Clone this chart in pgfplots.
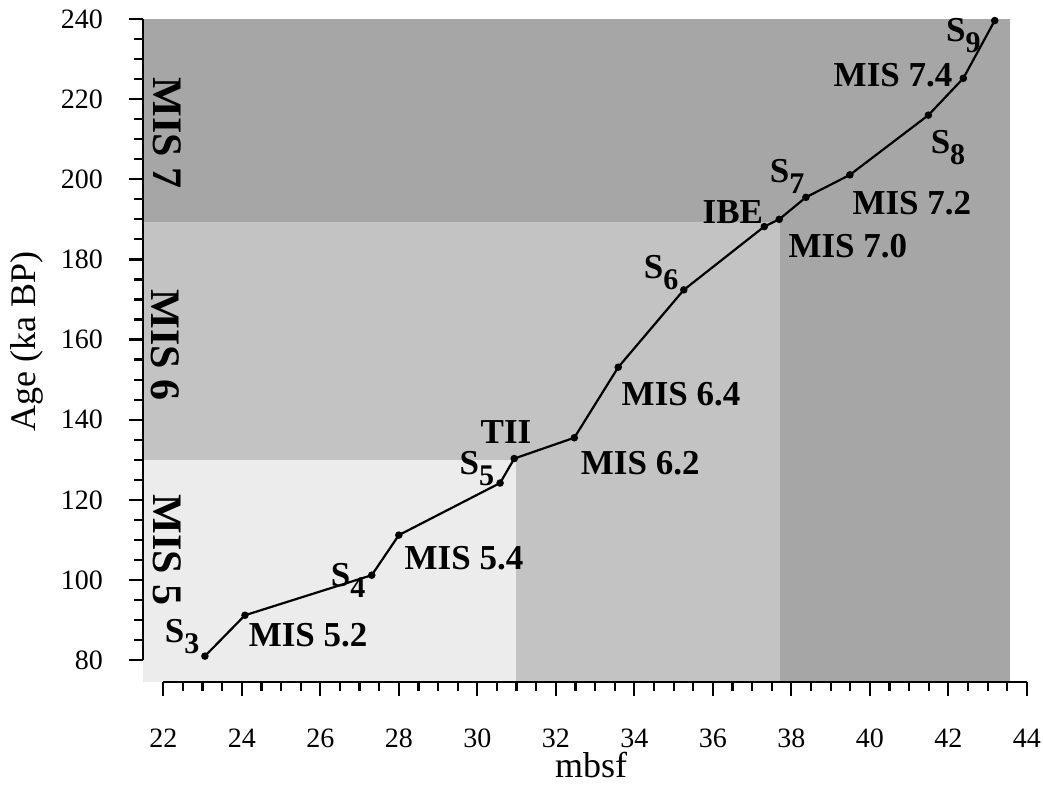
\documentclass[border=0pt]{standalone}
\usepackage{fontspec}
\setmainfont{Liberation Serif}
\usepackage{pgfplots}
\pgfplotsset{compat=1.18}
\definecolor{mis5}{gray}{0.925}
\definecolor{mis6}{gray}{0.765}
\definecolor{mis7}{gray}{0.65}
\newcommand{\sub}[1]{\raisebox{-5.5pt}{\fontsize{15}{15}\selectfont #1}}
\tikzset{
 lbl/.style={font=\bfseries\fontsize{17.5}{20}\selectfont, inner sep=0pt},
 mis/.style={font=\bfseries\fontsize{21}{24}\selectfont, rotate=-90, inner sep=0pt},
}
\begin{document}
\begin{tikzpicture}
\begin{axis}[
 scale only axis, width=431.7pt, height=320.5pt,
 xmin=22, xmax=44, ymin=80, ymax=240,
 clip=false, axis on top,
 axis x line*=bottom, axis y line*=left,
 axis x line shift=10.85pt, axis y line shift=10pt,
 xtick={22,24,...,44}, ytick={80,100,...,240},
 minor x tick num=3, minor y tick num=3,
 tick align=outside,
 major tick length=7.2pt, minor tick length=4.5pt,
 tick style={black, line width=1.1pt},
 axis line style={black, line width=1.2pt},
 /pgf/number format/assume math mode=true,
 ticklabel style={font=\fontsize{14}{16}\selectfont},
 yticklabel style={xshift=-9.5pt},
 xticklabel style={yshift=-12.75pt},
 xlabel={mbsf}, ylabel={Age (ka BP)},
 label style={font=\fontsize{18}{21}\selectfont},
 xlabel style={at={(axis description cs:0.4955,-0.1835)}, anchor=base},
 ylabel style={at={(axis description cs:-0.158,0.497)}, anchor=center},
]
\fill[mis7] (axis cs:21.49,74.6) rectangle (axis cs:43.57,240);
\fill[mis6] (axis cs:21.49,74.6) rectangle (axis cs:37.71,189.4);
\fill[mis5] (axis cs:21.49,74.6) rectangle (axis cs:30.98,129.9);
\addplot[black, line width=1.1pt, mark=*, mark size=1.3pt] coordinates {
 (23.06,81.0) (24.08,91.2) (27.31,101.2) (28.00,111.2) (30.58,124.2)
 (30.94,130.3) (32.47,135.5) (33.59,153.1) (35.26,172.4) (37.31,188.2)
 (37.69,190.0) (38.37,195.5) (39.49,201.1) (41.49,216.0) (42.38,225.2)
 (43.18,239.6)
};
\node[mis] at (axis cs:22.09,211.5) {MIS 7};
\node[mis] at (axis cs:22.05,158.6) {MIS 6};
\node[mis] at (axis cs:22.09,107.5) {MIS 5};
\node[lbl] at (axis cs:22.48,86.0) {S\sub{3}};
\node[lbl] at (axis cs:25.69,86.2) {MIS 5.2};
\node[lbl] at (axis cs:26.71,100.0) {S\sub{4}};
\node[lbl] at (axis cs:29.66,105.4) {MIS 5.4};
\node[lbl] at (axis cs:29.99,127.9) {S\sub{5}};
\node[lbl] at (axis cs:30.73,136.9) {TII};
\node[lbl] at (axis cs:34.15,129.2) {MIS 6.2};
\node[lbl] at (axis cs:35.19,146.4) {MIS 6.4};
\node[lbl] at (axis cs:34.68,176.8) {S\sub{6}};
\node[lbl] at (axis cs:36.51,191.8) {IBE};
\node[lbl] at (axis cs:39.44,183.3) {MIS 7.0};
\node[lbl] at (axis cs:37.89,200.6) {S\sub{7}};
\node[lbl] at (axis cs:41.07,194.1) {MIS 7.2};
\node[lbl] at (axis cs:41.99,208.0) {S\sub{8}};
\node[lbl] at (axis cs:40.59,226.0) {MIS 7.4};
\node[lbl] at (axis cs:42.38,235.8) {S\sub{9}};
\coordinate (bbA) at (axis cs:17.84,244.74);
\coordinate (bbB) at (axis cs:44.41,48.8);
\end{axis}
\pgfresetboundingbox
\path[use as bounding box] (bbA) rectangle (bbB);
\end{tikzpicture}
\end{document}
